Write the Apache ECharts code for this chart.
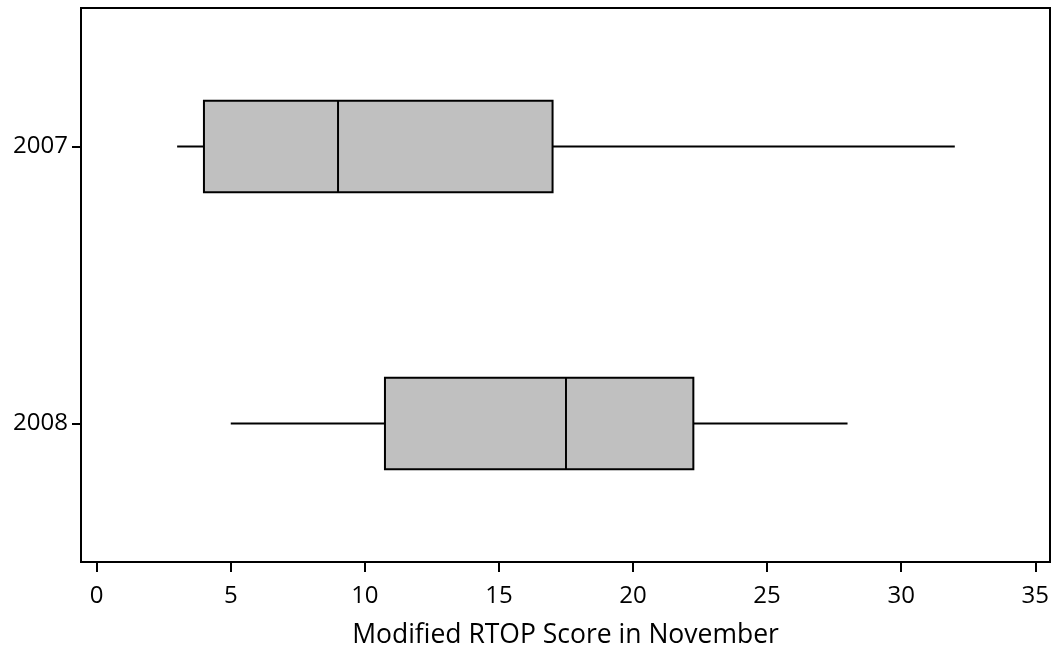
<!DOCTYPE html>
<html>
<head>
<meta charset="utf-8">
<script src="https://cdn.jsdelivr.net/npm/echarts@6/dist/echarts.min.js"></script>
<style>html,body{margin:0;padding:0;background:#fff;}#main{width:1057px;height:650px;}</style>
</head>
<body>
<div id="main"></div>
<script>
const categories = ['2007', '2008'];
const mins    = [3, 5];
const q1s     = [4, 10.75];
const medians = [9, 17.5];
const q3s     = [17, 22.25];
const maxs    = [32, 28];
const xTicks  = [0, 5, 10, 15, 20, 25, 30, 35];
const xTitle  = 'Modified RTOP Score in November';

const FONT = 'Open Sans';
const chart = echarts.init(document.getElementById('main'), null, {renderer: 'canvas'});
const data = categories.map((c, i) => [i, mins[i], q1s[i], medians[i], q3s[i], maxs[i]]);

chart.setOption({
  animation: false,
  backgroundColor: '#fff',
  grid: {left: 81, right: 7, top: 8, bottom: 88, outerBoundsMode: 'none', containLabel: false, show: true, borderColor: '#000', borderWidth: 2, backgroundColor: 'transparent'},
  xAxis: {
    type: 'value', min: -0.585, max: 35.55,
    name: xTitle, nameLocation: 'middle', nameGap: 60,
    nameTextStyle: {fontFamily: FONT, fontSize: 26.5, color: '#000'},
    axisLine: {show: true, onZero: false, lineStyle: {color: '#000', width: 2}},
    axisTick: {show: true, length: 10, lineStyle: {color: '#000', width: 2}, customValues: xTicks},
    axisLabel: {fontFamily: FONT, fontSize: 24, color: '#000', margin: 22, customValues: xTicks},
    splitLine: {show: false}
  },
  yAxis: {
    type: 'category', data: categories, inverse: true,
    axisLine: {show: true, onZero: false, lineStyle: {color: '#000', width: 2}},
    axisTick: {show: true, alignWithLabel: true, length: 9, lineStyle: {color: '#000', width: 2}},
    axisLabel: {fontFamily: FONT, fontSize: 24, color: '#000', margin: 13},
    splitLine: {show: false}
  },
  series: [{
    type: 'custom',
    data: data,
    encode: {x: [1, 2, 3, 4, 5], y: 0},
    renderItem: function (params, api) {
      const ci = api.value(0);
      const pMin = api.coord([api.value(1), ci]);
      const pQ1 = api.coord([api.value(2), ci]);
      const pMed = api.coord([api.value(3), ci]);
      const pQ3 = api.coord([api.value(4), ci]);
      const pMax = api.coord([api.value(5), ci]);
      const h = api.size([0, 1])[1] * 0.33;
      const y = pMed[1];
      const ls = {stroke: '#000', lineWidth: 2};
      return {
        type: 'group',
        children: [
          {type: 'line', shape: {x1: pMin[0], y1: y, x2: pQ1[0], y2: y}, style: ls},
          {type: 'line', shape: {x1: pQ3[0], y1: y, x2: pMax[0], y2: y}, style: ls},
          {type: 'rect', shape: {x: pQ1[0], y: y - h / 2, width: pQ3[0] - pQ1[0], height: h}, style: {fill: '#c0c0c0', stroke: '#000', lineWidth: 2}},
          {type: 'line', shape: {x1: pMed[0], y1: y - h / 2, x2: pMed[0], y2: y + h / 2}, style: ls}
        ]
      };
    }
  }]
});
</script>
</body>
</html>
